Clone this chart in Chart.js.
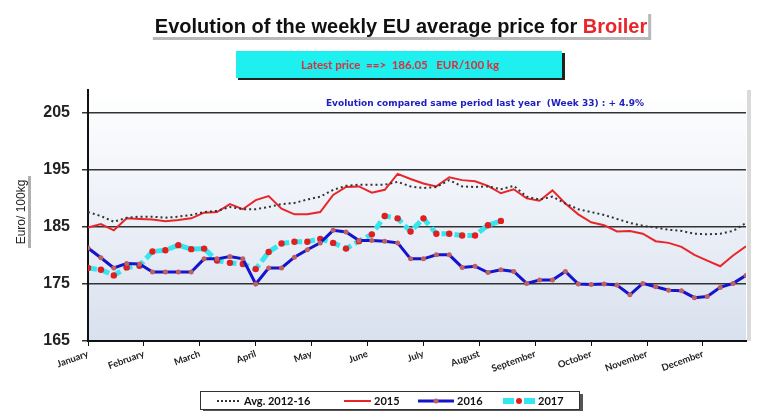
<!DOCTYPE html>
<html>
<head>
<meta charset="utf-8">
<script src="https://cdn.jsdelivr.net/npm/chart.js@4"></script>
<style>
  html, body { margin: 0; padding: 0; background: #fff; }
  #wrap { width: 757px; height: 411px; }
</style>
</head>
<body>
<div id="wrap"><canvas id="priceChart" width="757" height="411"></canvas></div>
<script>
// week numbers 1..52
const weeks = Array.from({ length: 52 }, (_, i) => i + 1);
const months = ['January', 'February', 'March', 'April', 'May', 'June', 'July',
  'August', 'September', 'October', 'November', 'December'];
const yTicks = [165, 175, 185, 195, 205];

// weekly prices, EUR/100 kg
const avg1216 = [187.6, 186.9, 185.9, 186.6, 186.8, 186.8, 186.6, 186.8, 187.1, 187.6,
  187.8, 188.5, 188.1, 188.1, 188.5, 189.0, 189.2, 189.8, 190.3, 191.5,
  192.2, 192.4, 192.4, 192.4, 192.9, 192.1, 191.8, 192.0, 193.2, 192.1,
  192.0, 192.1, 191.6, 192.2, 190.3, 189.8, 190.3, 189.1, 188.1, 187.6,
  187.1, 186.4, 185.7, 185.2, 184.9, 184.5, 184.3, 183.8, 183.7, 183.8,
  184.3, 185.7];
const y2015 = [184.9, 185.5, 184.4, 186.5, 186.4, 186.3, 186.0, 186.2, 186.5, 187.5,
  187.6, 189.0, 188.1, 189.7, 190.4, 188.2, 187.2, 187.2, 187.6, 190.6,
  192.0, 192.1, 191.0, 191.5, 194.3, 193.4, 192.6, 192.1, 193.7, 193.2,
  193.0, 192.2, 190.9, 191.6, 190.0, 189.6, 191.4, 189.1, 187.2, 185.8,
  185.3, 184.2, 184.3, 183.8, 182.5, 182.2, 181.5, 180.1, 179.1, 178.1,
  180.0, 181.6];
const y2016 = [181.3, 179.6, 177.8, 178.6, 178.5, 177.1, 177.1, 177.1, 177.1, 179.4,
  179.4, 179.8, 179.4, 175.0, 177.8, 177.8, 179.7, 181.0, 182.2, 184.4,
  184.1, 182.6, 182.6, 182.5, 182.2, 179.4, 179.4, 180.1, 180.1, 177.9,
  178.1, 177.0, 177.5, 177.2, 175.1, 175.7, 175.7, 177.2, 175.0, 174.9,
  175.0, 174.8, 173.1, 175.1, 174.5, 173.9, 173.8, 172.6, 172.8, 174.4,
  175.1, 176.5];
const y2017 = [177.8, 177.5, 176.5, 177.9, 178.2, 180.7, 180.9, 181.8, 181.1, 181.2,
  179.1, 178.7, 178.5, 177.6, 180.6, 182.1, 182.4, 182.4, 182.9, 182.2,
  181.2, 182.5, 183.7, 186.9, 186.5, 184.2, 186.5, 183.8, 183.8, 183.5,
  183.5, 185.3, 186.05];

const toPoints = arr => arr.map((v, i) => ({ x: weeks[i], y: v }));

// background, titles, boxes and legend
const decor = {
  id: 'decor',
  beforeDraw(chart) {
    const { ctx, chartArea: a } = chart;
    const g = ctx.createLinearGradient(0, a.top, 0, a.bottom);
    g.addColorStop(0, '#ffffff');
    g.addColorStop(1, '#d9e1ef');
    ctx.save();
    ctx.fillStyle = g;
    ctx.fillRect(a.left, a.top, a.right - a.left, a.bottom - a.top);
    ctx.fillStyle = '#dadada';
    ctx.fillRect(a.right + 1, a.top, 4, a.bottom - a.top);
    ctx.restore();
  },
  afterDraw(chart) {
    const ctx = chart.ctx;
    ctx.save();

    // main title
    ctx.textBaseline = 'middle';
    ctx.font = 'bold 20px "Liberation Sans", Arial, sans-serif';
    const t1 = 'Evolution of the weekly EU average price for ';
    const t2 = 'Broiler';
    const w1 = ctx.measureText(t1).width, w2 = ctx.measureText(t2).width;
    let x0 = 401 - (w1 + w2) / 2;
    ctx.fillStyle = '#b8b8b8';
    ctx.fillRect(x0 - 2, 37, w1 + w2 + 5, 3);
    ctx.fillRect(x0 + w1 + w2 + 1, 14, 3, 26);
    ctx.fillStyle = '#111';
    ctx.textAlign = 'left';
    ctx.fillText(t1, x0, 27);
    ctx.fillStyle = '#e8262a';
    ctx.fillText(t2, x0 + w1, 27);

    // latest price box
    ctx.fillStyle = '#222';
    ctx.fillRect(238, 53, 327, 27);
    ctx.fillStyle = '#1ef0f0';
    ctx.fillRect(236, 51, 326, 27);
    ctx.fillStyle = '#d8303c';
    ctx.font = 'bold 11.5px Lato, sans-serif';
    ctx.textAlign = 'center';
    ctx.fillText('Latest price  ==>  186.05   EUR/100 kg', 400, 65);

    // comparison note
    ctx.fillStyle = '#2020c0';
    ctx.font = 'bold 9px "DejaVu Sans", sans-serif';
    ctx.fillText('Evolution compared same period last year  (Week 33) : + 4.9%', 485, 104);

    // y axis title
    ctx.save();
    ctx.translate(22, 212);
    ctx.rotate(-Math.PI / 2);
    ctx.fillStyle = '#b0b0b0';
    ctx.fillRect(-36, 6, 72, 3);
    ctx.fillStyle = '#222';
    ctx.font = '12px "Liberation Sans", Arial, sans-serif';
    ctx.fillText('Euro/ 100kg', 0, 0);
    ctx.restore();

    // legend
    ctx.fillStyle = '#555';
    ctx.fillRect(203, 394, 380, 19);
    ctx.fillStyle = '#fff';
    ctx.fillRect(200, 391, 380, 19);
    ctx.strokeStyle = '#333';
    ctx.lineWidth = 1;
    ctx.strokeRect(200.5, 391.5, 379, 18);
    const ly = 401;
    ctx.font = 'bold 11px Lato, sans-serif';
    ctx.textAlign = 'left';
    ctx.fillStyle = '#111';
    // avg
    ctx.strokeStyle = '#333';
    ctx.lineWidth = 2;
    ctx.setLineDash([2, 2]);
    ctx.beginPath(); ctx.moveTo(217, ly); ctx.lineTo(240, ly); ctx.stroke();
    ctx.fillText('Avg. 2012-16', 244, ly);
    // 2015
    ctx.setLineDash([]);
    ctx.strokeStyle = '#e8262a';
    ctx.beginPath(); ctx.moveTo(344, ly); ctx.lineTo(371, ly); ctx.stroke();
    ctx.fillText('2015', 374, ly);
    // 2016
    ctx.strokeStyle = '#1414cc';
    ctx.lineWidth = 3;
    ctx.beginPath(); ctx.moveTo(418, ly); ctx.lineTo(454, ly); ctx.stroke();
    ctx.fillStyle = '#c06060';
    ctx.beginPath(); ctx.arc(436, ly, 2.5, 0, Math.PI * 2); ctx.fill();
    ctx.fillStyle = '#111';
    ctx.fillText('2016', 457, ly);
    // 2017
    ctx.fillStyle = '#33e6f0';
    ctx.fillRect(503, ly - 3, 11, 6);
    ctx.fillRect(524, ly - 3, 11, 6);
    ctx.fillStyle = '#e02020';
    ctx.beginPath(); ctx.arc(519, ly, 3, 0, Math.PI * 2); ctx.fill();
    ctx.fillStyle = '#111';
    ctx.fillText('2017', 538, ly);

    ctx.restore();
  }
};

const ctx = document.getElementById('priceChart');

const priceChart = new Chart(ctx, {
  type: 'line',
  data: {
    datasets: [
      {
        label: 'Avg. 2012-16',
        data: toPoints(avg1216),
        borderColor: '#333',
        borderWidth: 2,
        borderDash: [2, 3],
        pointRadius: 0,
        tension: 0
      },
      {
        label: '2015',
        data: toPoints(y2015),
        borderColor: '#e8262a',
        borderWidth: 2,
        pointRadius: 0,
        tension: 0
      },
      {
        label: '2016',
        data: toPoints(y2016),
        borderColor: '#1414cc',
        borderWidth: 3,
        pointRadius: 2.5,
        pointBackgroundColor: '#c06060',
        pointBorderWidth: 0,
        tension: 0
      },
      {
        label: '2017',
        data: toPoints(y2017),
        borderColor: '#33e6f0',
        borderWidth: 5,
        borderDash: [9, 4],
        pointRadius: 3.2,
        pointBackgroundColor: '#e02020',
        pointBorderWidth: 0,
        tension: 0
      }
    ]
  },
  options: {
    responsive: false,
    animation: false,
    devicePixelRatio: 1,
    layout: { padding: { left: 0, right: 11, top: 90, bottom: 0 } },
    plugins: {
      legend: { display: false },
      title: { display: false },
      tooltip: { enabled: false }
    },
    scales: {
      x: {
        type: 'linear',
        min: 1,
        max: 52,
        afterFit: s => { s.height = 70; },
        afterBuildTicks: s => {
          s.ticks = months.map((m, i) => ({ value: 1 + i * 52 / 12 }));
        },
        grid: {
          drawOnChartArea: false,
          color: '#111',
          tickLength: 5
        },
        border: { color: '#111', width: 2 },
        ticks: {
          autoSkip: false,
          minRotation: 20,
          maxRotation: 20,
          padding: 2,
          color: '#222',
          font: { family: 'Lato, sans-serif', size: 9.5, weight: 'bold' },
          callback: (v, i) => months[i]
        }
      },
      y: {
        min: 165,
        max: 209,
        afterFit: s => { s.width = 88; },
        afterBuildTicks: s => {
          s.ticks = yTicks.map(v => ({ value: v }));
        },
        grid: {
          color: '#333',
          lineWidth: 1.5,
          tickLength: 6
        },
        border: { color: '#111', width: 2 },
        ticks: {
          padding: 12,
          color: '#222',
          font: { family: '"Liberation Sans", Arial, sans-serif', size: 16, weight: 'bold' }
        }
      }
    }
  },
  plugins: [decor]
});
</script>
</body>
</html>
